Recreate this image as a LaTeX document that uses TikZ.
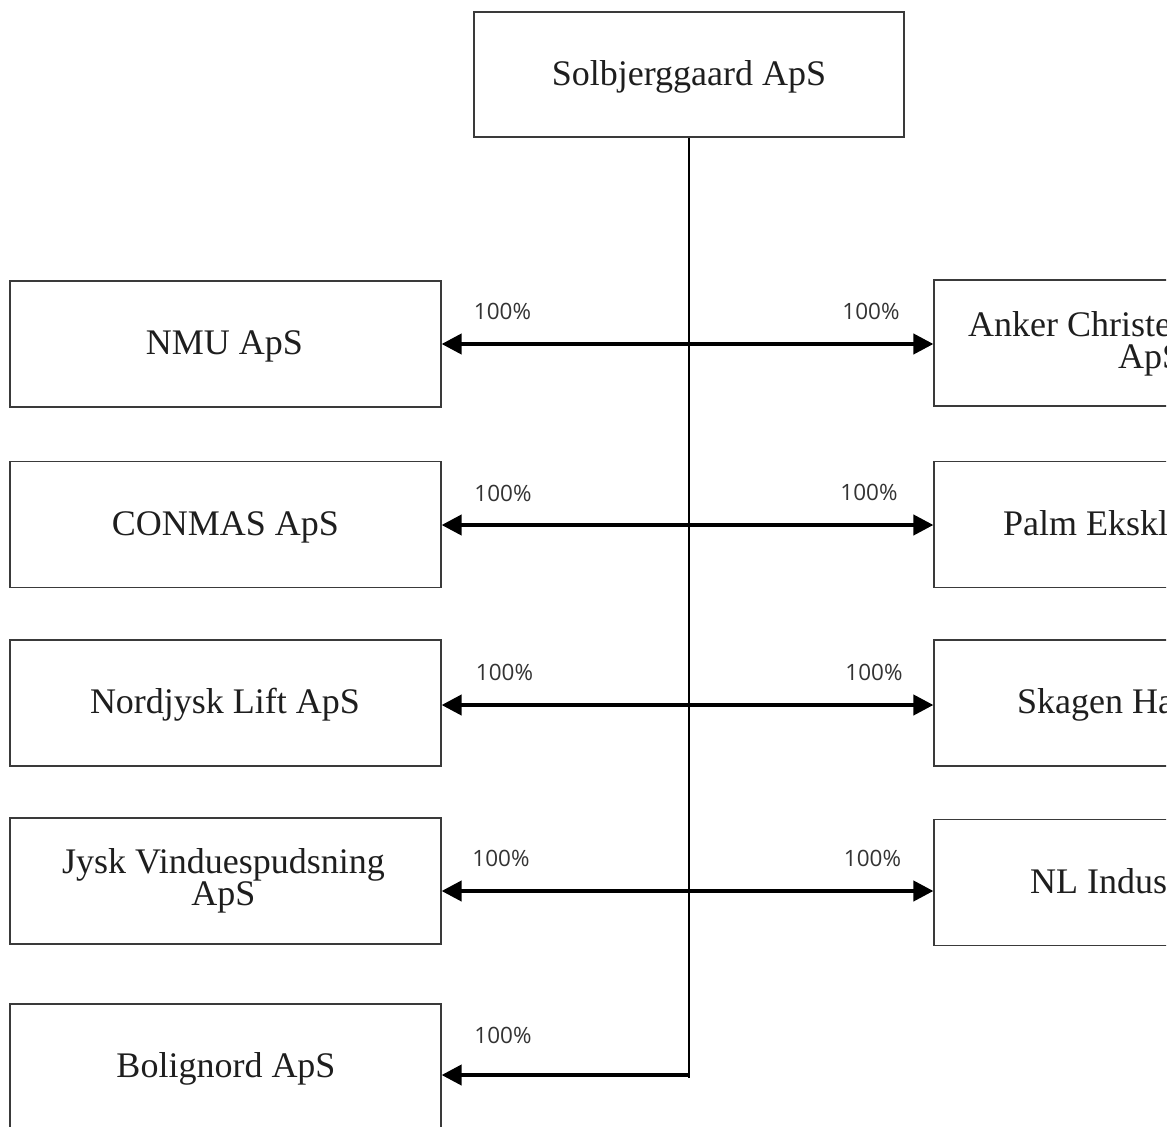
\documentclass[tikz,border=0pt]{standalone}
\usepackage{fontspec}
\setmainfont{Liberation Serif}
\newfontfamily\pctfont{Open Sans}
\usetikzlibrary{arrows.meta}
\definecolor{boxline}{HTML}{3A3A3A}
\definecolor{txtcol}{HTML}{1E1E1E}
\definecolor{pctcol}{HTML}{333333}
\begin{document}
\begin{tikzpicture}[x=1pt,y=-1pt,
  box/.style={draw=boxline, line width=1.2pt, minimum width=431pt, minimum height=126pt, inner sep=0pt},
  lbl/.style={font=\fontsize{36}{32}\selectfont, text=txtcol, inner sep=0pt},
  pct/.style={font=\pctfont\fontsize{22.5}{24}\selectfont, text=pctcol, inner sep=0pt},
  arr/.style={line width=4pt, draw=black, -{Triangle[length=20pt,width=20pt]}},
  trunk/.style={line width=2pt, draw=black}]
\useasboundingbox (0,0) rectangle (1174,1126);
\begin{scope}
\clip (0,0) rectangle (1166,1126);
% boxes
\node[box, minimum width=430pt, minimum height=125pt] (top) at (689,74.5) {};
\node[box] (b1) at (225.5,344) {};
\node[box] (b2) at (225.5,524.5) {};
\node[box] (b3) at (225.5,703) {};
\node[box] (b4) at (225.5,881) {};
\node[box] (b5) at (225.5,1067) {};
\node[box] (r1) at (1149.5,343) {};
\node[box] (r2) at (1149.5,524.5) {};
\node[box] (r3) at (1149.5,703) {};
\node[box] (r4) at (1149.5,882.5) {};
% box texts
\node[lbl, anchor=base] (t0) at (689,86) {Solbjerggaard ApS};
\node[lbl, anchor=base] (t1) at (224.5,354) {NMU ApS};
\node[lbl, anchor=base] (t2) at (225.5,535) {CONMAS ApS};
\node[lbl, anchor=base] (t3) at (225,713) {Nordjysk Lift ApS};
\node[lbl, anchor=base] (t4a) at (223.5,873) {Jysk Vinduespudsning};
\node[lbl, anchor=base] (t4b) at (223.5,905) {ApS};
\node[lbl, anchor=base] (t5) at (226,1077) {Bolignord ApS};
\node[lbl, anchor=base west] (s1a) at (968,336) {Anker Christensen};
\node[lbl, anchor=base west] (s1b) at (1118,368) {ApS};
\node[lbl, anchor=base west] (s2) at (1003,535) {Palm Eksklusiv};
\node[lbl, anchor=base west] (s3) at (1017,713) {Skagen Havn};
\node[lbl, anchor=base west] (s4) at (1030,893) {NL Industri};
% trunk
\coordinate (tend) at (688.5,1078);
\draw[trunk] (top.south -| tend) -- (tend);
% junctions and arrows
\coordinate (j1) at (688.5,344);
\coordinate (j2) at (688.5,525);
\coordinate (j3) at (688.5,705);
\coordinate (j4) at (688.5,891);
\coordinate (j5) at (688.5,1075);
\draw[arr] (j1) -- (j1 -| b1.east);
\draw[arr] (j1) -- (j1 -| r1.west);
\draw[arr] (j2) -- (j2 -| b2.east);
\draw[arr] (j2) -- (j2 -| r2.west);
\draw[arr] (j3) -- (j3 -| b3.east);
\draw[arr] (j3) -- (j3 -| r3.west);
\draw[arr] (j4) -- (j4 -| b4.east);
\draw[arr] (j4) -- (j4 -| r4.west);
\draw[arr] (j5) -- (j5 -| b5.east);
% percentages
\node[pct] (p1l) at (502.5,311) {100\%};
\node[pct] (p1r) at (871,311) {100\%};
\node[pct] (p2l) at (503,493) {100\%};
\node[pct] (p2r) at (869,492) {100\%};
\node[pct] (p3l) at (504.5,672) {100\%};
\node[pct] (p3r) at (874,672) {100\%};
\node[pct] (p4l) at (501,858) {100\%};
\node[pct] (p4r) at (872.5,858) {100\%};
\node[pct] (p5l) at (503,1035) {100\%};
\end{scope}
\end{tikzpicture}
\end{document}
